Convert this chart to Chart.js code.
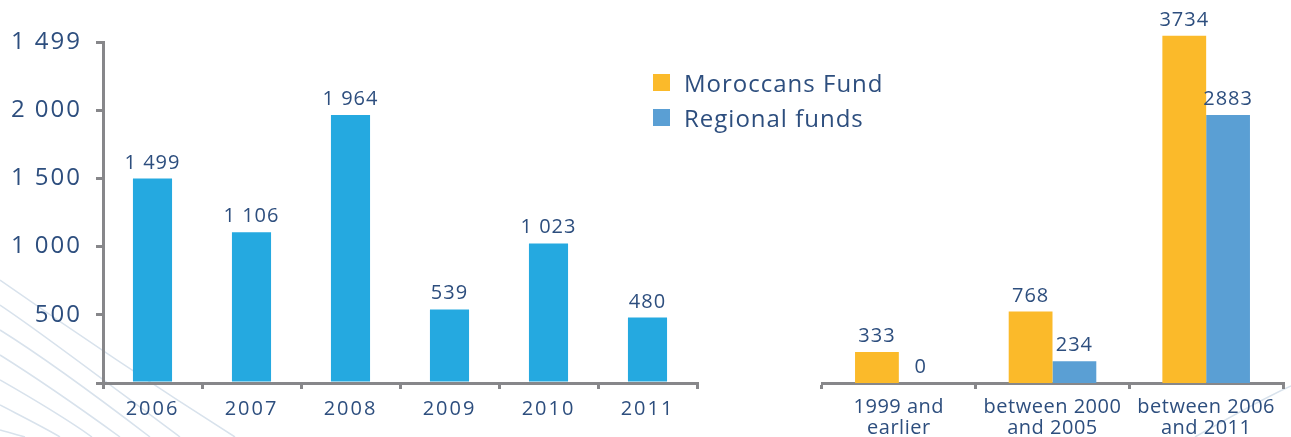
<!DOCTYPE html>
<html>
<head>
<meta charset="utf-8">
<script src="https://cdn.jsdelivr.net/npm/chart.js@4.4.1/dist/chart.umd.min.js"></script>
<style>
    body { margin: 0; background: #fff; width: 1291px; height: 437px; overflow: hidden; position: relative; font-family: 'Open Sans', sans-serif; }
    #deco, #leftChart, #rightChart, #legend { position: absolute; top: 0; }
    #deco { left: 0; }
    #leftChart { left: 0; }
    #rightChart { left: 720px; }
    #legend { left: 653px; top: 65px; color: #2d4e7e; font-size: 24px; letter-spacing: 1px; }
    .item { display: flex; align-items: center; height: 35px; line-height: 35px; white-space: nowrap; }
    .swatch { width: 17px; height: 17px; margin-right: 14px; }
</style>
</head>
<body>
<svg id="deco" width="1291" height="437">
    <g fill="none" stroke="#d8e2ec" stroke-width="1.5">
        <path d="M0 280 C50 315 130 370 235 437"/>
        <path d="M0 305 C45 335 110 385 180 437"/>
        <path d="M0 330 C45 358 95 395 150 437"/>
        <path d="M0 355 C40 380 80 408 120 437"/>
        <path d="M0 380 C35 400 65 418 92 437"/>
        <path d="M0 405 C25 418 45 428 60 437"/>
        <path d="M0 430 C10 433 18 435 25 437"/>
        <path d="M1195 437 C1230 417 1260 400 1291 386"/>
    </g>
</svg>
<canvas id="leftChart" width="720" height="437"></canvas>
<canvas id="rightChart" width="571" height="437"></canvas>
<div id="legend"></div>
<script>
// left chart: regional funds by year
const years = ['2006', '2007', '2008', '2009', '2010', '2011'];
const regionalByYear = [1499, 1106, 1964, 539, 1023, 480];
const yTickLabels = ['', '500', '1 000', '1 500', '2 000', '1 499'];

// right chart: funds by period
const periods = [['1999 and', 'earlier'], ['between 2000', 'and 2005'], ['between 2006', 'and 2011']];
const seriesNames = ['Moroccans Fund', 'Regional funds'];
const moroccansFund = [333, 768, 3734];
const regionalFunds = [0, 234, 2883];

const TEXT = '#2d4e7e';
const AXIS = '#87878a';
const FONT = "'Open Sans', sans-serif";

function spaced(v) {
    return String(v).replace(/\B(?=(\d{3})+(?!\d))/g, ' ');
}

const valueLabels = {
    id: 'valueLabels',
    beforeDraw(chart, args, opts) {
        chart.ctx.letterSpacing = opts.tickSpacing;
    },
    afterDatasetsDraw(chart, args, opts) {
        const ctx = chart.ctx;
        ctx.save();
        ctx.font = '20px ' + FONT;
        ctx.letterSpacing = '1px';
        ctx.fillStyle = TEXT;
        ctx.textAlign = 'center';
        ctx.textBaseline = 'alphabetic';
        chart.data.datasets.forEach((ds, i) => {
            chart.getDatasetMeta(i).data.forEach((bar, j) => {
                ctx.fillText(opts.format(ds.data[j]), bar.x, bar.y - 10);
            });
        });
        ctx.restore();
    }
};

const leftChart = new Chart(document.getElementById('leftChart'), {
    type: 'bar',
    data: {
        labels: years,
        datasets: [{
            label: 'Regional funds',
            data: regionalByYear,
            backgroundColor: '#25a9e0',
            categoryPercentage: 1,
            barPercentage: 0.395
        }]
    },
    plugins: [valueLabels],
    options: {
        responsive: false,
        animation: false,
        layout: { padding: { top: 42, right: 23, left: 0, bottom: 0 } },
        plugins: {
            legend: { display: false },
            tooltip: { enabled: false },
            valueLabels: { format: spaced, tickSpacing: '2px' }
        },
        scales: {
            x: {
                grid: { drawOnChartArea: false, drawTicks: true, offset: true, tickLength: 6, color: AXIS, lineWidth: 3 },
                border: { display: true, color: AXIS, width: 3 },
                ticks: { color: TEXT, font: { family: FONT, size: 20 }, padding: 8, maxRotation: 0, autoSkip: false },
                afterFit(scale) { scale.height = 54; }
            },
            y: {
                min: 0,
                max: 2500,
                grid: { drawOnChartArea: false, drawTicks: true, tickLength: 7, color: AXIS, lineWidth: 3 },
                border: { display: true, color: AXIS, width: 3 },
                ticks: {
                    stepSize: 500,
                    color: TEXT,
                    font: { family: FONT, size: 24 },
                    padding: 14,
                    callback: (v, i) => yTickLabels[i]
                },
                afterFit(scale) { scale.width = 103; }
            }
        }
    }
});

const rightChart = new Chart(document.getElementById('rightChart'), {
    type: 'bar',
    data: {
        labels: periods,
        datasets: [
            { label: seriesNames[0], data: moroccansFund, backgroundColor: '#fbba2a', categoryPercentage: 0.57, barPercentage: 1 },
            { label: seriesNames[1], data: regionalFunds, backgroundColor: '#5a9fd4', categoryPercentage: 0.57, barPercentage: 1 }
        ]
    },
    plugins: [valueLabels],
    options: {
        responsive: false,
        animation: false,
        layout: { padding: { top: 11, right: 8, left: 102, bottom: 0 } },
        plugins: {
            legend: { display: false },
            tooltip: { enabled: false },
            valueLabels: { format: v => String(v), tickSpacing: '0.5px' }
        },
        scales: {
            x: {
                grid: { drawOnChartArea: false, drawTicks: true, offset: true, tickLength: 6, color: AXIS, lineWidth: 3 },
                border: { display: true, color: AXIS, width: 3 },
                ticks: { color: TEXT, font: { family: FONT, size: 20, lineHeight: 1.05 }, padding: 8, maxRotation: 0, autoSkip: false },
                afterFit(scale) { scale.height = 54; }
            },
            y: {
                display: false,
                min: 0,
                max: 4000
            }
        }
    }
});

// legend built from the right chart's datasets
const legend = document.getElementById('legend');
rightChart.data.datasets.forEach(ds => {
    const item = document.createElement('div');
    item.className = 'item';
    const sw = document.createElement('span');
    sw.className = 'swatch';
    sw.style.background = ds.backgroundColor;
    const txt = document.createElement('span');
    txt.textContent = ds.label;
    item.appendChild(sw);
    item.appendChild(txt);
    legend.appendChild(item);
});
</script>
</body>
</html>
